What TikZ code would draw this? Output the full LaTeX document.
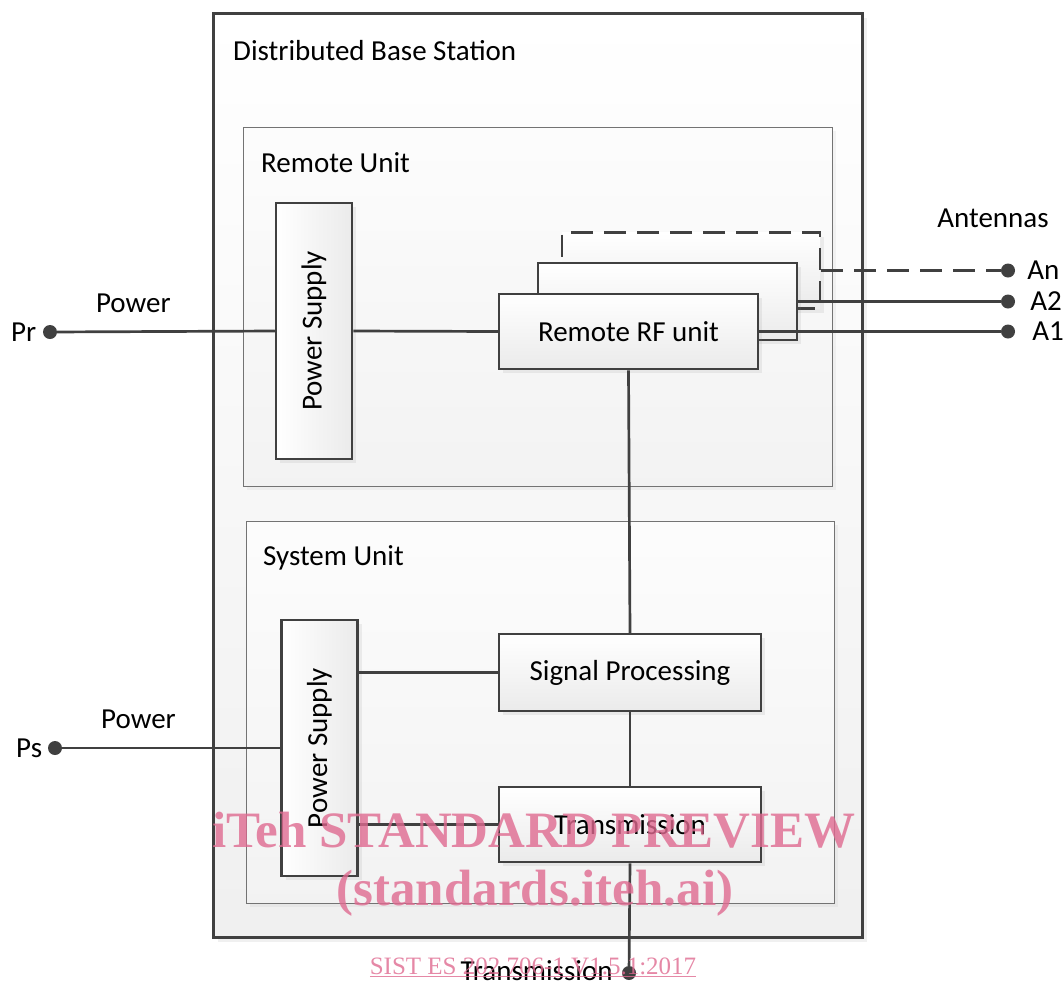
\documentclass[tikz,border=0pt]{standalone}
\usepackage{fontspec}
\setmainfont{Carlito}
\newfontfamily\markfont{Liberation Serif}
\usepackage{graphicx}
\usetikzlibrary{arrows.meta, positioning, shadows}

\definecolor{linegray}{HTML}{404040}
\definecolor{markpink}{HTML}{DF6A90}

\begin{document}
\begin{tikzpicture}[
        x=1pt, y=-1pt,
        font=\fontsize{29}{35}\selectfont,
        frame_box/.style={
            draw=linegray,
            line width=3pt,
            rectangle,
            inner sep=0pt,
            top color=white,
            bottom color=black!6,
            drop shadow={shadow xshift=5pt, shadow yshift=-5pt, opacity=0.12}
        },
        unit_box/.style={
            draw=black!55,
            line width=1pt,
            rectangle,
            inner sep=0pt,
            top color=black!1,
            bottom color=black!5,
            drop shadow={shadow xshift=4pt, shadow yshift=-4pt, opacity=0.08}
        },
        block_box/.style={
            draw=linegray,
            line width=2.5pt,
            rectangle,
            inner sep=0pt,
            minimum width=262pt,
            minimum height=76pt,
            top color=white,
            bottom color=black!8,
            drop shadow={shadow xshift=4pt, shadow yshift=-4pt, opacity=0.12}
        },
        ps_box/.style={
            draw=linegray,
            line width=2.5pt,
            rectangle,
            inner sep=0pt,
            minimum width=76pt,
            minimum height=256pt,
            left color=white,
            right color=black!8,
            drop shadow={shadow xshift=4pt, shadow yshift=-4pt, opacity=0.12}
        },
        link_style/.style={
            draw=linegray,
            line width=2.7pt
        },
        dot_style/.style={
            circle,
            fill=linegray,
            inner sep=0pt,
            minimum size=14pt
        },
        plain_text/.style={
            inner sep=0pt
        },
        mark_style/.style={
            text=markpink,
            text opacity=0.8,
            inner sep=0pt,
            font=\markfont\bfseries\fontsize{51}{60}\selectfont
        }
    ]
        \useasboundingbox (0,0) rectangle (1064,983);

        % containers
        \node[frame_box, minimum width=649pt, minimum height=924pt] (dbs) at (537.5,475) {};
        \node[plain_text, anchor=west] (dbs_label) at (233,51) {Distributed Base Station};
        \node[unit_box, minimum width=589pt, minimum height=359pt] (remote) at (537.5,306.5) {};
        \node[plain_text, anchor=west] (remote_label) at (261,163) {Remote Unit};
        \node[unit_box, minimum width=588pt, minimum height=382pt] (system) at (540,712) {};
        \node[plain_text, anchor=west] (system_label) at (263,558) {System Unit};

        % remote unit blocks
        \node[ps_box] (ps_r) at (314,331) {\rotatebox{90}{Power Supply}};
        \node[block_box, minimum width=258pt, dash pattern=on 22pt off 11pt] (rrf_c) at (691,270.5) {};
        \node[block_box, minimum width=259pt, minimum height=77pt] (rrf_b) at (667.5,301.5) {};
        \node[block_box, minimum width=259pt, minimum height=75pt] (rrf) at (628.5,331.5) {Remote RF unit};

        % system unit blocks
        \node[ps_box] (ps_s) at (319.5,748) {\rotatebox{90}{Power Supply}};
        \node[block_box, minimum height=77pt] (sp) at (630,672.5) {Signal Processing};
        \node[block_box, minimum height=75pt] (tx) at (630,824.5) {Transmission};

        % terminals
        \node[dot_style] (pr_dot) at (50,332) {};
        \node[plain_text, left=6.5pt of pr_dot] (pr_label) {Pr};
        \node[dot_style] (ps_dot) at (55,748) {};
        \node[plain_text, left=5.5pt of ps_dot] (ps_label) {Ps};
        \node[dot_style] (an_dot) at (1008,270.5) {};
        \node[dot_style] (a2_dot) at (1008,301.5) {};
        \node[dot_style] (a1_dot) at (1008,331.5) {};
        \node[plain_text, right=12pt of an_dot] (an_label) {An};
        \node[plain_text, right=15pt of a2_dot] (a2_label) {A2};
        \node[plain_text, right=17pt of a1_dot] (a1_label) {A1};
        \node[plain_text] (ant_label) at (993,218) {Antennas};
        \node[dot_style] (tx_dot) at (629,973) {};
        \node[plain_text, left=9pt of tx_dot, yshift=2pt] (tx_label) {Transmission};

        % links
        \draw[link_style] (pr_dot) -- node[pos=0.35, above=18pt, inner sep=0pt] (pr_power) {Power} (ps_r.west);
        \draw[link_style] (ps_r.east) -- (rrf.west);
        \draw[link_style] (rrf.south) -- (sp.north);
        \draw[link_style] (sp.south) -- (tx.north);
        \draw[link_style] (tx.south) -- (tx_dot);
        \draw[link_style] (ps_s.east |- sp.west) -- (sp.west);
        \draw[link_style] (ps_s.east |- tx.west) -- (tx.west);
        \draw[link_style] (ps_dot) -- node[pos=0.35, above=18pt, inner sep=0pt] (ps_power) {Power} (ps_s.west);
        \draw[link_style] (rrf.east) -- (a1_dot);
        \draw[link_style] (rrf_b.east |- a2_dot) -- (a2_dot);
        \draw[link_style, dash pattern=on 22pt off 11pt] (rrf_c.east |- an_dot) -- (an_dot);

        % preview marks
        \node[mark_style] (wm_top) at (534,830) {iTeh STANDARD PREVIEW};
        \node[mark_style] (wm_mid) at (535,893) {(standards.iteh.ai)};
        \node[mark_style, font=\markfont\fontsize{25}{30}\selectfont] (wm_low) at (533,967) {\underline{SIST ES 202 706-1 V1.5.1:2017}};
\end{tikzpicture}
\end{document}
